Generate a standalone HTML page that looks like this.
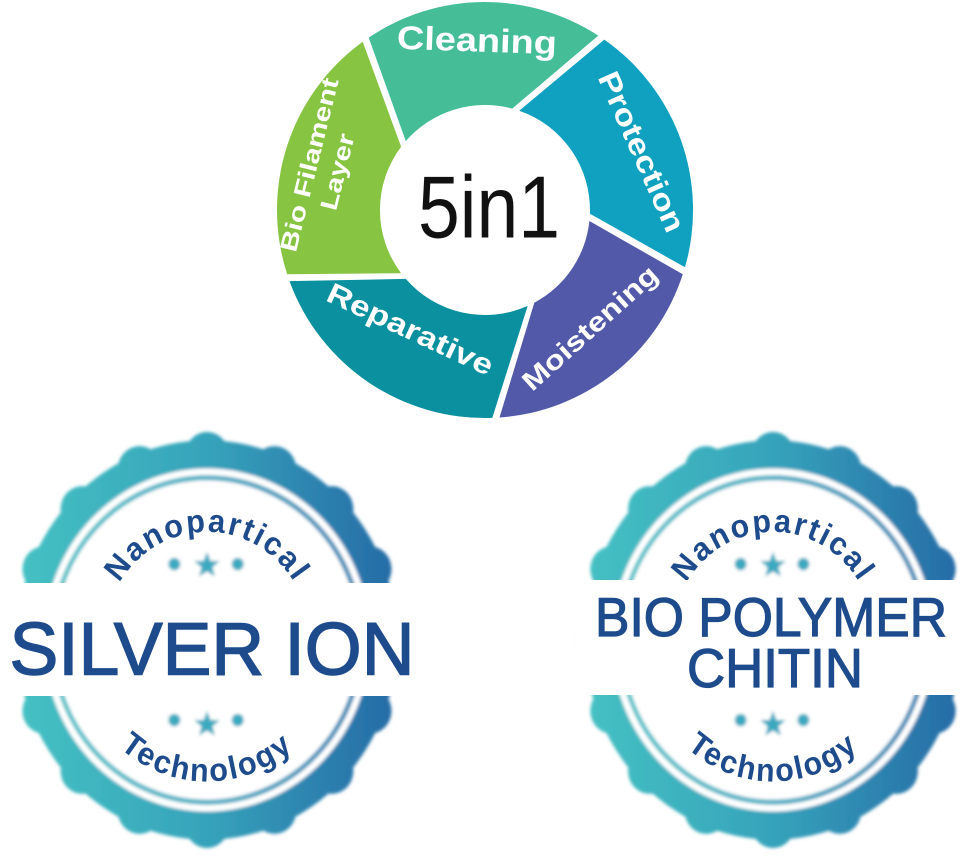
<!DOCTYPE html>
<html><head><meta charset="utf-8"><style>
html,body{margin:0;padding:0;background:#fff;width:969px;height:862px;overflow:hidden}
svg{display:block}
</style></head><body>
<svg width="969" height="862" viewBox="0 0 969 862" xmlns="http://www.w3.org/2000/svg">
<defs>
<linearGradient id="bg" x1="-200" y1="0" x2="200" y2="0" gradientUnits="userSpaceOnUse">
<stop offset="0" stop-color="#46c2c3"/><stop offset="0.5" stop-color="#36a3bb"/><stop offset="1" stop-color="#2568a5"/>
</linearGradient>
<filter id="bl" x="-10%" y="-10%" width="120%" height="120%"><feGaussianBlur stdDeviation="1.6"/></filter>
<path id="topArc" d="M-104,0 A104,104 0 0 1 104,0"/>
<path id="botArc" d="M-136,0 A136,136 0 0 0 136,0"/>
<g id="badge">
 <g filter="url(#bl)" fill="url(#bg)">
  <circle r="192"/>
  <circle cx="178" cy="0" r="22"/><circle cx="164.4" cy="68.1" r="22"/><circle cx="125.9" cy="125.9" r="22"/><circle cx="68.1" cy="164.4" r="22"/>
  <circle cx="0" cy="178" r="22"/><circle cx="-68.1" cy="164.4" r="22"/><circle cx="-125.9" cy="125.9" r="22"/><circle cx="-164.4" cy="68.1" r="22"/>
  <circle cx="-178" cy="0" r="22"/><circle cx="-164.4" cy="-68.1" r="22"/><circle cx="-125.9" cy="-125.9" r="22"/><circle cx="-68.1" cy="-164.4" r="22"/>
  <circle cx="0" cy="-178" r="22"/><circle cx="68.1" cy="-164.4" r="22"/><circle cx="125.9" cy="-125.9" r="22"/><circle cx="164.4" cy="-68.1" r="22"/>
  <circle r="165" fill="#fff"/>
  <circle r="156" fill="none" stroke="url(#bg)" stroke-width="5" opacity="0.85"/>
  <g fill="#3aa9c0">
   <circle cx="-33" cy="-73" r="6"/><circle cx="31" cy="-73" r="6"/>
   <polygon points="0,-85 3.5,-76 13,-76 5.5,-70 8,-61 0,-66 -8,-61 -5.5,-70 -13,-76 -3.5,-76"/>
   <circle cx="-33" cy="77" r="6"/><circle cx="31" cy="77" r="6"/>
   <polygon points="0,68 3.5,77 13,77 5.5,83 8,92 0,87 -8,92 -5.5,83 -13,77 -3.5,77"/>
  </g>
 </g>
 <text font-family="Liberation Sans, sans-serif" font-weight="bold" font-size="31" fill="#1d4b8c" letter-spacing="2"><textPath href="#topArc" startOffset="50%" text-anchor="middle">Nanopartical</textPath></text>
 <text font-family="Liberation Sans, sans-serif" font-weight="bold" font-size="31" fill="#1d4b8c" letter-spacing="2"><textPath href="#botArc" startOffset="50%" text-anchor="middle">Technology</textPath></text>
</g>
</defs>

<!-- ring -->
<g>
<path d="M368.7,37.6 A208 208 0 0 1 598.3,35.6 L512.2,108.6 A105 105 0 0 0 405.8,141.1 Z" fill="#45bd96"/>
<path d="M604.3,39.6 A208 208 0 0 1 685.0,267.3 L589.9,213.7 A105 105 0 0 0 519.2,110.7 Z" fill="#10a1c1"/>
<path d="M682.8,274.3 A208 208 0 0 1 499.5,417.5 L534.3,302.7 A105 105 0 0 0 589.4,221.0 Z" fill="#5159a8"/>
<path d="M492.3,417.9 A208 208 0 0 1 289.5,281.1 L405.8,278.9 A105 105 0 0 0 527.7,305.9 Z" fill="#0a909f"/>
<path d="M287.2,274.3 A208 208 0 0 1 362.7,41.7 L401.1,146.8 A105 105 0 0 0 401.1,273.2 Z" fill="#86c441"/>
</g>
<g font-family="Liberation Sans, sans-serif" font-weight="bold" fill="#fff" text-anchor="middle" dominant-baseline="central">
<text x="477" y="40" font-size="33" textLength="160" lengthAdjust="spacingAndGlyphs" transform="rotate(2 477 40)">Cleaning</text>
<text x="641" y="152" font-size="30" textLength="172" lengthAdjust="spacingAndGlyphs" transform="rotate(66 641 152)">Protection</text>
<text x="590" y="328" font-size="27" textLength="172" lengthAdjust="spacingAndGlyphs" transform="rotate(-42 590 328)">Moistening</text>
<text x="410" y="330" font-size="29" textLength="180" lengthAdjust="spacingAndGlyphs" transform="rotate(25 410 330)">Reparative</text>
<text x="310" y="165" font-size="24" textLength="178" lengthAdjust="spacingAndGlyphs" transform="rotate(-76 310 165)">Bio Filament</text>
<text x="338" y="172" font-size="24" textLength="78" lengthAdjust="spacingAndGlyphs" transform="rotate(-76 338 172)">Layer</text>
</g>
<text x="489" y="207" font-family="Liberation Sans, sans-serif" font-size="88" fill="#111" text-anchor="middle" dominant-baseline="central" textLength="142" lengthAdjust="spacingAndGlyphs">5in1</text>

<!-- badge 1 -->
<g transform="translate(207,640) scale(0.99,1.04)"><use href="#badge"/></g>
<rect x="0" y="583" width="430" height="113" fill="#fff"/>
<text x="212" y="649" font-family="Liberation Sans, sans-serif" font-size="74" fill="#1d4b8c" stroke="#1d4b8c" stroke-width="1.5" text-anchor="middle" dominant-baseline="central" textLength="405" lengthAdjust="spacingAndGlyphs">SILVER ION</text>

<!-- badge 2 -->
<g transform="translate(773,640) scale(0.98,1.04)"><use href="#badge"/></g>
<rect x="575" y="580" width="394" height="115" fill="#fff"/>
<text x="771" y="617" font-family="Liberation Sans, sans-serif" font-size="55" fill="#1d4b8c" stroke="#1d4b8c" stroke-width="1.2" text-anchor="middle" dominant-baseline="central" textLength="352" lengthAdjust="spacingAndGlyphs">BIO POLYMER</text>
<text x="775" y="668" font-family="Liberation Sans, sans-serif" font-size="55" fill="#1d4b8c" stroke="#1d4b8c" stroke-width="1.2" text-anchor="middle" dominant-baseline="central" textLength="176" lengthAdjust="spacingAndGlyphs">CHITIN</text>
</svg>
</body></html>
